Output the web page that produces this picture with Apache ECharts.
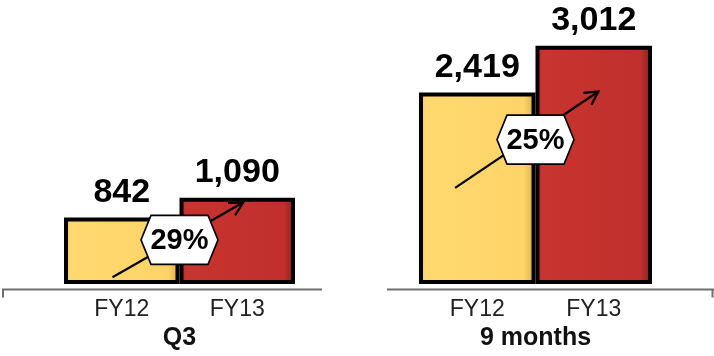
<!DOCTYPE html>
<html>
<head>
<meta charset="utf-8">
<script src="https://cdn.jsdelivr.net/npm/echarts@6/dist/echarts.min.js"></script>
<style>html,body{margin:0;padding:0;background:#fff}#c{width:714px;height:356px}</style>
</head>
<body>
<div id="c"></div>
<script>
// ---- data ----
const categories = ['FY12', 'FY13'];
const groups = ['Q3', '9 months'];
const q3Values = [842, 1090];
const nineMonthValues = [2419, 3012];
const growthLabels = ['29%', '25%'];
// arrow start / end levels (value units)
const q3Arrow = [87, 1030];
const nineMonthArrow = [1216, 2433];

// ---- layout / style ----
const FONT = '"Liberation Sans", Arial, sans-serif';
const yMax = 3500;
const arrowShift = [[-0.08, 0.05], [-0.19, 0.04]]; // fraction of a band
const grids = [
  { left: 64, width: 231, top: 7, bottom: 67 },
  { left: 419, width: 233, top: 7, bottom: 67 }
];

function grad(c0, c1, c2, c3) {
  return new echarts.graphic.LinearGradient(0, 0, 1, 0, [
    { offset: 0, color: c0 }, { offset: 0.06, color: c1 },
    { offset: 0.9, color: c2 }, { offset: 1, color: c3 }
  ]);
}
const fills = [
  grad('#F2C65E', '#FFD96F', '#FED468', '#D8A748'),
  grad('#B42B28', '#C8342F', '#C0302D', '#8A1F1C')
];

function barSeries(values, idx) {
  return {
    type: 'bar', xAxisIndex: idx, yAxisIndex: idx, barWidth: '100%', z: 3,
    data: values.map((v, i) => ({
      value: v,
      itemStyle: { color: fills[i], borderColor: '#000', borderWidth: 4 }
    })),
    label: {
      show: true, position: 'top', distance: 8,
      formatter: p => p.value.toLocaleString('en-US'),
      fontFamily: FONT, fontWeight: 'bold', fontSize: 34, color: '#000'
    }
  };
}

function arrowSeries(arrow, label, idx) {
  return {
    type: 'custom', xAxisIndex: idx, yAxisIndex: idx, z: 10, clip: false,
    silent: true,
    data: [[0, arrow[0], 1, arrow[1]]],
    encode: { x: [0, 2], y: [1, 3] },
    renderItem: function (params, api) {
      const band = api.size([1, 0])[0];
      const s = api.coord([api.value(0), api.value(1)]);
      const e = api.coord([api.value(2), api.value(3)]);
      const c0 = api.coord([0, 0]), c1 = api.coord([1, 0]);
      s[0] += band * arrowShift[idx][0];
      e[0] += band * arrowShift[idx][1];
      const ang = Math.atan2(e[1] - s[1], e[0] - s[0]);
      const L = 15, a = 0.5;
      const w1 = [e[0] - L * Math.cos(ang - a), e[1] - L * Math.sin(ang - a)];
      const w2 = [e[0] - L * Math.cos(ang + a), e[1] - L * Math.sin(ang + a)];
      const cx = (c0[0] + c1[0]) / 2;
      const cy = (s[1] + e[1]) / 2;
      const hw = 38.5, hh = 24.5, ins = 10;
      return {
        type: 'group',
        children: [
          { type: 'line', shape: { x1: s[0], y1: s[1], x2: e[0], y2: e[1] },
            style: { stroke: '#000', lineWidth: 2.2 } },
          { type: 'polyline', shape: { points: [w1, e, w2] },
            style: { stroke: '#000', lineWidth: 2.2, fill: null } },
          { type: 'polygon', shape: { points: [
              [cx - hw, cy], [cx - hw + ins, cy - hh], [cx + hw - ins, cy - hh],
              [cx + hw, cy], [cx + hw - ins, cy + hh], [cx - hw + ins, cy + hh]] },
            style: { fill: '#fff', stroke: '#000', lineWidth: 1.6 } },
          { type: 'text', style: { text: label, x: cx, y: cy + 1, fill: '#000',
              fontFamily: FONT, fontWeight: 'bold', fontSize: 29,
              align: 'center', verticalAlign: 'middle' } }
        ]
      };
    }
  };
}

function xAxisFor(idx) {
  return {
    type: 'category', gridIndex: idx, data: categories,
    axisLine: { show: false }, axisTick: { show: false },
    axisLabel: { fontFamily: FONT, fontSize: 23, color: '#222', margin: 14 },
    name: groups[idx], nameLocation: 'middle', nameGap: 40,
    nameTextStyle: { fontFamily: FONT, fontSize: 25, fontWeight: 'bold', color: '#111' }
  };
}
function yAxisFor(idx) {
  return { type: 'value', gridIndex: idx, min: 0, max: yMax, show: false, splitLine: { show: false } };
}

const axisStyle = { stroke: '#6f6f6f', lineWidth: 2 };
const chart = echarts.init(document.getElementById('c'), null, { renderer: 'canvas' });
chart.setOption({
  animation: false,
  backgroundColor: '#fff',
  grid: grids,
  xAxis: [xAxisFor(0), xAxisFor(1)],
  yAxis: [yAxisFor(0), yAxisFor(1)],
  graphic: [
    { type: 'line', z: 1, shape: { x1: 2, y1: 289.5, x2: 322, y2: 289.5 }, style: axisStyle },
    { type: 'line', z: 1, shape: { x1: 3, y1: 289, x2: 3, y2: 297.5 }, style: axisStyle },
    { type: 'line', z: 1, shape: { x1: 387, y1: 289.5, x2: 714, y2: 289.5 }, style: axisStyle },
    { type: 'line', z: 1, shape: { x1: 712.5, y1: 289, x2: 712.5, y2: 297.5 }, style: axisStyle }
  ],
  series: [
    barSeries(q3Values, 0),
    barSeries(nineMonthValues, 1),
    arrowSeries(q3Arrow, growthLabels[0], 0),
    arrowSeries(nineMonthArrow, growthLabels[1], 1)
  ]
});
</script>
</body>
</html>
